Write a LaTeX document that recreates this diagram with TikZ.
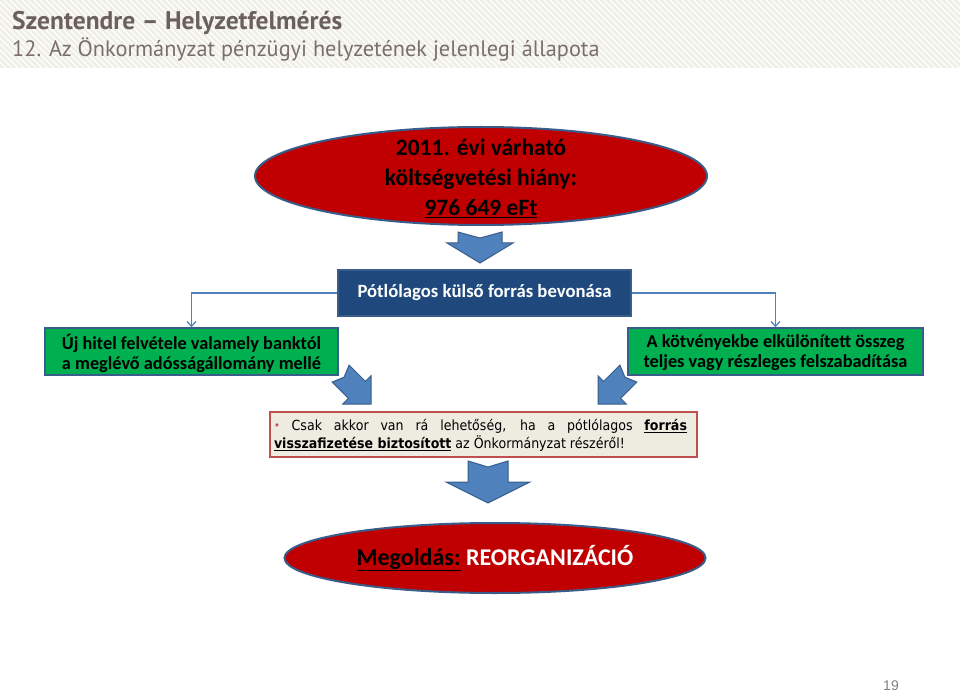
\documentclass[tikz,border=0pt]{standalone}
\usepackage{fontspec}
\setmainfont{Carlito}
\newfontfamily\hdrfont{PT Sans}
\newfontfamily\boxfont[FakeStretch=0.9]{DejaVu Sans}
\newfontfamily\numfont{Liberation Sans}
\usetikzlibrary{shapes.geometric,arrows.meta}
\definecolor{ered}{HTML}{C00000}
\definecolor{ebord}{HTML}{385D8A}
\definecolor{afill}{HTML}{4F81BD}
\definecolor{navy}{HTML}{1F497D}
\definecolor{gfill}{HTML}{00B050}
\definecolor{rbord}{HTML}{C0504D}
\definecolor{rfill}{HTML}{EEECE1}
\definecolor{hdrbg}{HTML}{EFEEE7}
\definecolor{ttl}{HTML}{6B605C}
\definecolor{sub}{HTML}{7A6F6B}
\tikzset{
  arrowstyle/.style={fill=afill, draw=ebord, line width=1pt, line join=miter},
  bigarrow/.pic={\path[arrowstyle] (-20,0) -- (0,6) -- (20,0) -- (20,21) -- (42,21) -- (0,42) -- (-42,21) -- (-20,21) -- cycle;},
  smallarrow/.pic={\path[arrowstyle] (-22,0) -- (0,6) -- (22,0) -- (22,11) -- (33,11) -- (0,31) -- (-33,11) -- (-22,11) -- cycle;},
  diagarrow/.pic={\path[arrowstyle] (-12,0) -- (0,5) -- (12,0) -- (12,23) -- (20,23) -- (0,43) -- (-20,23) -- (-12,23) -- cycle;},
  redell/.style={ellipse, draw=ebord, line width=2pt, fill=ered, inner sep=0pt},
  greenbox/.style={rectangle, draw=ebord, line width=1.5pt, fill=gfill, inner sep=0pt, minimum height=47pt},
  gtext/.style={align=center, font=\fontsize{18.3pt}{20pt}\selectfont\bfseries, text=black, inner sep=0pt},
  conn/.style={draw=afill, line width=1.2pt, -{Straight Barb[length=5pt,width=9pt]}},
}
\begin{document}
\begin{tikzpicture}[x=1pt,y=-1pt]
\useasboundingbox (0,0) rectangle (960,692);
\fill[white] (0,0) rectangle (960,692);
% header band
\begin{scope}
\clip (0,0) rectangle (960,68);
\fill[hdrbg] (0,0) rectangle (960,68);
\foreach \i in {-80,-74,...,1000} \draw[white, line width=1.3pt] (\i,0) -- (\i+70,70);
\end{scope}
\node[anchor=base west, inner sep=0pt, text=ttl, font=\hdrfont\bfseries\fontsize{25.5pt}{28pt}\selectfont] (title) at (12,30) {Szentendre – Helyzetfelmérés};
\node[anchor=base west, inner sep=0pt, text=sub, font=\hdrfont\fontsize{22.3pt}{24pt}\selectfont] (subtitle) at (12,57) {12. Az Önkormányzat pénzügyi helyzetének jelenlegi állapota};

% top ellipse
\node[redell, minimum width=452pt, minimum height=98pt] (top) at (481,176) {};
\node[align=center, inner sep=0pt, font=\fontsize{23.5pt}{30pt}\selectfont\bfseries, text=black] (toptxt) at (481,178) {2011. évi várható\\költségvetési hiány:\\\underline{976 649 eFt}};

% arrows
\pic at (480,232) {smallarrow};
\pic[rotate=45] at (340.6,373.6) {diagarrow};
\pic[rotate=-45] at (628.4,373.6) {diagarrow};
\pic at (488,461) {bigarrow};

% blue box
\node[rectangle, draw=ebord, line width=1.5pt, fill=navy, minimum width=293pt, minimum height=46pt, inner sep=0pt, text=white, font=\fontsize{18.7pt}{20pt}\selectfont\bfseries] (blue) at (484.5,293) {Pótlólagos külső forrás bevonása};

% green boxes
\node[greenbox, minimum width=293pt] (lbox) at (191.5,351.5) {};
\node[gtext] (ltxt) at (191.5,353) {Új hitel felvétele valamely banktól\\a meglévő adósságállomány mellé};
\node[greenbox, minimum width=295pt] (rbox) at (775.5,351.5) {};
\node[gtext] (rtxt) at (775.5,353) {A kötvényekbe elkülönített összeg\\teljes vagy részleges felszabadítása};

\draw[conn] (blue.west) -| (lbox.north);
\draw[conn] (blue.east) -| (rbox.north);

% condition box
\node[rectangle, draw=rbord, line width=1.5pt, fill=rfill, minimum width=427pt, minimum height=45pt, inner sep=0pt] (cond) at (483.5,434.5) {};
\node[text width=413pt, align=justify, inner sep=0pt, font=\boxfont\fontsize{14pt}{18pt}\selectfont, text=black] (condtxt) at (480.5,435.5) {{\color{rbord}\fontsize{11pt}{11pt}\selectfont\raisebox{1pt}{•}} Csak akkor van rá lehetőség, ha a pótlólagos \underline{\textbf{forrás}}\linebreak \underline{\textbf{visszafizetése biztosított}} az Önkormányzat részéről!};

% bottom ellipse
\node[redell, minimum width=421pt, minimum height=70pt] (sol) at (495,558) {};
\node[inner sep=0pt, font=\fontsize{24pt}{26pt}\selectfont\bfseries] (soltxt) at (495,558) {\underline{Megoldás:} \textcolor{white}{REORGANIZÁCIÓ}};

% page number
\node[inner sep=0pt, text=black!50, font=\numfont\fontsize{14pt}{16pt}\selectfont] (pnum) at (891,686) {19};
\end{tikzpicture}
\end{document}
